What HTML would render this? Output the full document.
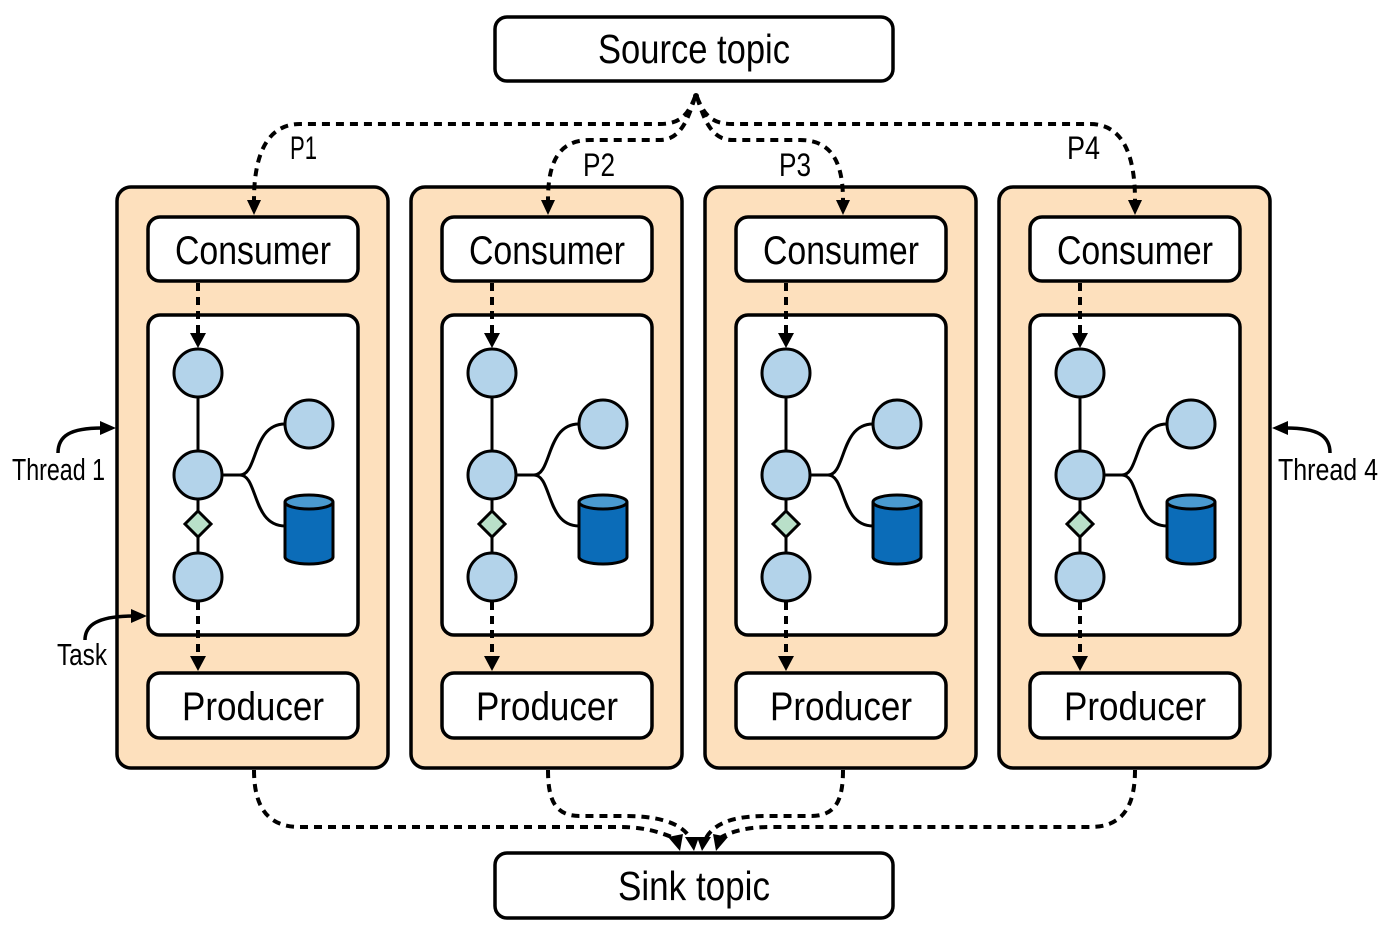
<!DOCTYPE html>
<html><head><meta charset="utf-8"><style>
html,body{margin:0;padding:0;background:#fff;}
svg text{font-family:"Liberation Sans",sans-serif;fill:#000;}
</style></head><body>
<svg width="1392" height="932" viewBox="0 0 1392 932" xmlns="http://www.w3.org/2000/svg">
<defs>
<g id="col">
  <rect x="117" y="187" width="271" height="581" rx="14" fill="#fde0bd" stroke="#000" stroke-width="3.5"/>
  <rect x="148" y="217" width="210" height="64" rx="12" fill="#fff" stroke="#000" stroke-width="3.5"/>
  <text x="253" y="264" font-size="40" text-anchor="middle" textLength="156" lengthAdjust="spacingAndGlyphs">Consumer</text>
  <rect x="148" y="315" width="210" height="320" rx="12" fill="#fff" stroke="#000" stroke-width="3.5"/>
  <rect x="148" y="673" width="210" height="65" rx="12" fill="#fff" stroke="#000" stroke-width="3.5"/>
  <text x="253" y="720" font-size="40" text-anchor="middle" textLength="142" lengthAdjust="spacingAndGlyphs">Producer</text>
  <line x1="198" y1="283" x2="198" y2="333" stroke="#000" stroke-width="4" stroke-dasharray="8,6"/>
  <polygon points="190,333 206,333 198,348" fill="#000"/>
  <line x1="198" y1="602" x2="198" y2="656" stroke="#000" stroke-width="4" stroke-dasharray="8,6"/>
  <polygon points="190,656 206,656 198,671" fill="#000"/>
  <line x1="198" y1="373" x2="198" y2="577" stroke="#000" stroke-width="3"/>
  <path d="M222 475 H240 C258 475 252 424 285 424" fill="none" stroke="#000" stroke-width="3"/>
  <path d="M240 475 C258 475 252 526 285 526" fill="none" stroke="#000" stroke-width="3"/>
  <circle cx="198" cy="373" r="24" fill="#b3d3ea" stroke="#000" stroke-width="3"/>
  <circle cx="198" cy="475" r="24" fill="#b3d3ea" stroke="#000" stroke-width="3"/>
  <circle cx="198" cy="577" r="24" fill="#b3d3ea" stroke="#000" stroke-width="3"/>
  <circle cx="309" cy="424" r="24" fill="#b3d3ea" stroke="#000" stroke-width="3"/>
  <polygon points="198,511 211,524 198,537 185,524" fill="#b9e0c9" stroke="#000" stroke-width="3"/>
  <path d="M285 502 V557 A24 7 0 0 0 333 557 V502" fill="#0b6cb8" stroke="#000" stroke-width="3"/>
  <ellipse cx="309" cy="502" rx="24" ry="7" fill="#4a9ad0" stroke="#000" stroke-width="3"/>
</g>
</defs>
<use href="#col"/>
<use href="#col" x="294"/>
<use href="#col" x="588"/>
<use href="#col" x="882"/>

<rect x="495" y="17" width="398" height="64" rx="12" fill="#fff" stroke="#000" stroke-width="3.5"/>
<text x="694" y="63" font-size="41" text-anchor="middle" textLength="192" lengthAdjust="spacingAndGlyphs">Source topic</text>
<rect x="495" y="853" width="398" height="65" rx="12" fill="#fff" stroke="#000" stroke-width="3.5"/>
<text x="694" y="900" font-size="41" text-anchor="middle" textLength="152" lengthAdjust="spacingAndGlyphs">Sink topic</text>

<g fill="none" stroke="#000" stroke-width="4" stroke-dasharray="8,6">
  <path d="M695 97 C688 115 680 124 660 124 H300 C270 124 254 150 254 200"/>
  <path d="M695 97 C688 120 680 140 660 140 H590 C560 140 548 160 548 200"/>
  <path d="M697 97 C704 120 712 140 732 140 H800 C830 140 843 160 843 200"/>
  <path d="M697 97 C704 115 712 124 732 124 H1090 C1120 124 1135 150 1135 200"/>
  <path d="M254 770 C254 810 270 827 300 827 H620 C650 827 665 835 675 838"/>
  <path d="M548 770 C548 800 555 816 580 816 H625 C650 816 680 820 690 838"/>
  <path d="M843 770 C843 800 836 816 811 816 H766 C741 816 716 820 706 838"/>
  <path d="M1135 770 C1135 810 1120 827 1090 827 H770 C740 827 725 835 720 838"/>
</g>
<circle cx="696" cy="96" r="3" fill="#000"/>
<polygon points="247,200 261,200 254,215" fill="#000"/>
<polygon points="541,200 555,200 548,215" fill="#000"/>
<polygon points="836,200 850,200 843,215" fill="#000"/>
<polygon points="1128,200 1142,200 1135,215" fill="#000"/>
<polygon points="668,837 683,834 680,851" fill="#000"/>
<polygon points="685,837 699,837 694,851" fill="#000"/>
<polygon points="697,837 711,837 702,851" fill="#000"/>
<polygon points="713,834 728,837 716,851" fill="#000"/>

<text x="290" y="159" font-size="32" textLength="27" lengthAdjust="spacingAndGlyphs">P1</text>
<text x="583" y="176" font-size="32" textLength="32" lengthAdjust="spacingAndGlyphs">P2</text>
<text x="779" y="176" font-size="32" textLength="32" lengthAdjust="spacingAndGlyphs">P3</text>
<text x="1067" y="159" font-size="32" textLength="33" lengthAdjust="spacingAndGlyphs">P4</text>
<text x="12" y="480" font-size="31" textLength="93" lengthAdjust="spacingAndGlyphs">Thread 1</text>
<text x="1278" y="480" font-size="31" textLength="100" lengthAdjust="spacingAndGlyphs">Thread 4</text>
<text x="57" y="665" font-size="31" textLength="50" lengthAdjust="spacingAndGlyphs">Task</text>

<g fill="none" stroke="#000" stroke-width="3.5">
  <path d="M58 453 C58 436 70 428 102 428"/>
  <path d="M1330 453 C1330 436 1318 428 1286 428"/>
  <path d="M85 640 C85 625 98 616 133 616"/>
</g>
<polygon points="100,421 116,428 100,435" fill="#000"/>
<polygon points="1288,421 1272,428 1288,435" fill="#000"/>
<polygon points="131,609 147,616 131,623" fill="#000"/>
</svg>
</body></html>
